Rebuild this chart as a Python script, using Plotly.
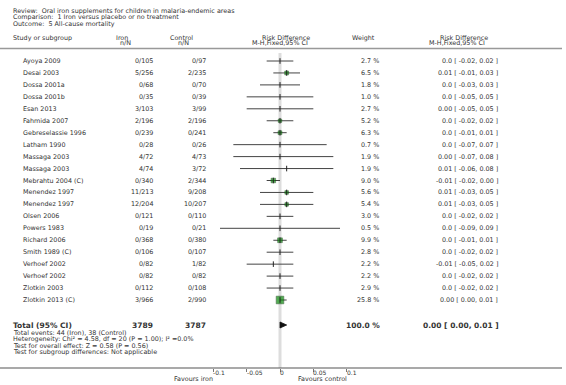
import plotly.graph_objects as go
import math

# ---------------- data ----------------
studies = ["Ayoya 2009", "Desai 2003", "Dossa 2001a", "Dossa 2001b", "Esan 2013",
           "Fahmida 2007", "Gebreselassie 1996", "Latham 1990", "Massaga 2003", "Massaga 2003",
           "Mebrahtu 2004 (C)", "Menendez 1997", "Menendez 1997", "Olsen 2006", "Powers 1983",
           "Richard 2006", "Smith 1989 (C)", "Verhoef 2002", "Verhoef 2002", "Zlotkin 2003",
           "Zlotkin 2013 (C)"]
iron_nN = ["0/105", "5/256", "0/68", "0/35", "3/103", "2/196", "0/239", "0/28", "4/72", "4/74",
           "0/340", "11/213", "12/204", "0/121", "0/19", "0/368", "0/106", "0/82", "0/82", "0/112",
           "3/966"]
control_nN = ["0/97", "2/235", "0/70", "0/39", "3/99", "2/196", "0/241", "0/26", "4/73", "3/72",
              "2/344", "9/208", "10/207", "0/110", "0/21", "0/380", "0/107", "1/82", "0/82", "0/108",
              "2/990"]
weights = [2.7, 6.5, 1.8, 1.0, 2.7, 5.2, 6.3, 0.7, 1.9, 1.9, 9.0, 5.6, 5.4, 3.0, 0.5, 9.9, 2.8,
           2.2, 2.2, 2.9, 25.8]
rd = [0.0, 0.01, 0.0, 0.0, 0.00, 0.0, 0.0, 0.0, 0.00, 0.01, -0.01, 0.01, 0.01, 0.0, 0.0, 0.0,
      0.0, -0.01, 0.0, 0.0, 0.00]
ci_lo = [-0.02, -0.01, -0.03, -0.05, -0.05, -0.02, -0.01, -0.07, -0.07, -0.06, -0.02, -0.03,
         -0.03, -0.02, -0.09, -0.01, -0.02, -0.05, -0.02, -0.02, 0.00]
ci_hi = [0.02, 0.03, 0.03, 0.05, 0.05, 0.02, 0.01, 0.07, 0.08, 0.08, 0.00, 0.05, 0.05, 0.02,
         0.09, 0.01, 0.02, 0.02, 0.02, 0.02, 0.01]
rd_labels = ["0.0 [ -0.02, 0.02 ]", "0.01 [ -0.01, 0.03 ]", "0.0 [ -0.03, 0.03 ]",
             "0.0 [ -0.05, 0.05 ]", "0.00 [ -0.05, 0.05 ]", "0.0 [ -0.02, 0.02 ]",
             "0.0 [ -0.01, 0.01 ]", "0.0 [ -0.07, 0.07 ]", "0.00 [ -0.07, 0.08 ]",
             "0.01 [ -0.06, 0.08 ]", "-0.01 [ -0.02, 0.00 ]", "0.01 [ -0.03, 0.05 ]",
             "0.01 [ -0.03, 0.05 ]", "0.0 [ -0.02, 0.02 ]", "0.0 [ -0.09, 0.09 ]",
             "0.0 [ -0.01, 0.01 ]", "0.0 [ -0.02, 0.02 ]", "-0.01 [ -0.05, 0.02 ]",
             "0.0 [ -0.02, 0.02 ]", "0.0 [ -0.02, 0.02 ]", "0.00 [ 0.00, 0.01 ]"]

total_iron_N = "3789"
total_control_N = "3787"
total_weight = "100.0 %"
total_rd = 0.00
total_lo = 0.00
total_hi = 0.01
total_label = "0.00 [ 0.00, 0.01 ]"

title_lines = ["Review:  Oral iron supplements for children in malaria-endemic areas",
               "Comparison:  1 Iron versus placebo or no treatment",
               "Outcome:  5 All-cause mortality"]
footnotes = ["Total events: 44 (Iron), 38 (Control)",
             "Heterogeneity: Chi² = 4.58, df = 20 (P = 1.00); I² =0.0%",
             "Test for overall effect: Z = 0.58 (P = 0.56)",
             "Test for subgroup differences: Not applicable"]
tick_vals = [-0.1, -0.05, 0, 0.05, 0.1]
tick_text = ["-0.1", "-0.05", "0", "0.05", "0.1"]

# ---------------- layout constants ----------------
W, H = 566, 385
FONT = "DejaVu Sans"
TXT = "#333333"
FS = 6.4
ZERO_PX = 280.0
PX_PER_UNIT = 666.67
ROW0_PX = 61.0
ROW_H = 11.95
TOTAL_PX = 325.0
AXIS_PX = 368.0

x_r0 = -ZERO_PX / PX_PER_UNIT
x_r1 = x_r0 + W / PX_PER_UNIT
y_top = -ROW0_PX / ROW_H
y_bot = (H - ROW0_PX) / ROW_H
total_row = (TOTAL_PX - ROW0_PX) / ROW_H


def px(x):
    return x / W


def py(y):
    return 1 - y / H


fig = go.Figure()

n = len(studies)
rows = list(range(n))

# CI lines
cx, cy = [], []
for i in rows:
    cx += [ci_lo[i], ci_hi[i], None]
    cy += [i, i, None]
fig.add_trace(go.Scatter(x=cx, y=cy, mode="lines", line=dict(color="#444444", width=1),
                         hoverinfo="skip", showlegend=False))

# weighted squares (visible only for the larger weights)
sq_idx = [i for i in rows if weights[i] >= 5]
fig.add_trace(go.Scatter(x=[rd[i] for i in sq_idx], y=sq_idx, mode="markers",
                         marker=dict(symbol="square", color="#0b8a0b",
                                     size=[1.5 * math.sqrt(weights[i]) for i in sq_idx],
                                     line=dict(color="#063806", width=0.6)),
                         hoverinfo="skip", showlegend=False))

# point ticks
fig.add_trace(go.Scatter(x=rd, y=rows, mode="markers",
                         marker=dict(symbol="line-ns", size=4, line=dict(color="#222222", width=1)),
                         hoverinfo="skip", showlegend=False))

# total diamond (lower CI bound equals the estimate, so it renders as a right-pointing wedge)
t = total_row
dh = 0.25
fig.add_trace(go.Scatter(x=[total_lo, total_rd, total_hi, total_rd, total_lo],
                         y=[t, t - dh, t, t + dh, t], mode="lines", fill="toself",
                         fillcolor="#111111", line=dict(color="#111111", width=0.8),
                         hoverinfo="skip", showlegend=False))

shapes = [
    dict(type="line", xref="x", yref="paper", x0=0, x1=0, y0=py(53), y1=py(AXIS_PX),
         line=dict(color="#dddddd", width=3), layer="below"),
    dict(type="line", xref="paper", yref="paper", x0=0, x1=px(562), y0=py(48.5), y1=py(48.5),
         line=dict(color="#999999", width=1.5)),
    dict(type="line", xref="paper", yref="paper", x0=0, x1=px(562), y0=py(AXIS_PX), y1=py(AXIS_PX),
         line=dict(color="#555555", width=1.2)),
]

ann = []


def add(text, x, y, xanchor, yref="paper", size=FS, bold=False, xref="paper", color=TXT):
    if bold:
        text = "<b>" + text + "</b>"
    ann.append(dict(text=text, x=x, y=y, xref=xref, yref=yref, xanchor=xanchor,
                    yanchor="middle", showarrow=False, borderpad=0, borderwidth=0,
                    font=dict(family=FONT, size=size, color=color)))


# titles
for k, line in enumerate(title_lines):
    add(line, px(13), py(11 + k * 6.5), "left")

# headers
add("Study or subgroup", px(13), py(37.7), "left")
add("Iron", px(128), py(37.7), "right")
add("n/N", px(131), py(43.3), "right")
add("Control", px(193), py(37.7), "right")
add("n/N", px(189), py(43.3), "right")
add("Risk Difference", px(310), py(37.7), "right")
add("M-H,Fixed,95% CI", px(308), py(43.3), "right")
add("Weight", px(375), py(37.7), "right")
add("Risk Difference", px(488), py(37.7), "right")
add("M-H,Fixed,95% CI", px(485), py(43.3), "right")

# rows
for i in rows:
    add(studies[i], px(23), i, "left", yref="y")
    add(iron_nN[i], px(153), i, "right", yref="y")
    add(control_nN[i], px(206), i, "right", yref="y")
    add(f"{weights[i]:.1f} %", px(379), i, "right", yref="y")
    add(rd_labels[i], px(498), i, "right", yref="y")

# total
add("Total (95% CI)", px(13), total_row, "left", yref="y", size=7.5, bold=True)
add(total_iron_N, px(153), total_row, "right", yref="y", size=7.5, bold=True)
add(total_control_N, px(206), total_row, "right", yref="y", size=7.5, bold=True)
add(total_weight, px(380), total_row, "right", yref="y", size=7.5, bold=True)
add(total_label, px(499), total_row, "right", yref="y", size=7.5, bold=True)

for k, line in enumerate(footnotes):
    add(line, px(13), py(332.7 + k * 6.55), "left")

# tick labels
for v, tt in zip(tick_vals, tick_text):
    add(tt, v, py(372.5), "left", xref="x", size=6)

add("Favours iron", -0.1, py(379), "right", xref="x")
add("Favours control", 0.1, py(379), "right", xref="x")

fig.update_layout(
    width=W, height=H, margin=dict(l=0, r=0, t=0, b=0),
    paper_bgcolor="white", plot_bgcolor="white",
    xaxis=dict(range=[x_r0, x_r1], domain=[0, 1], anchor="free", position=py(AXIS_PX),
               tickvals=tick_vals, ticks="outside", ticklen=3, tickcolor="#777777",
               showticklabels=False, showgrid=False, zeroline=False, showline=False,
               fixedrange=True),
    yaxis=dict(range=[y_bot, y_top], domain=[0, 1], visible=False, showgrid=False,
               zeroline=False, fixedrange=True),
    shapes=shapes, annotations=ann, showlegend=False,
)

fig.write_html("out.html", config={"displayModeBar": False},
               post_script="document.body.style.margin='0';document.body.style.overflow='hidden';")
